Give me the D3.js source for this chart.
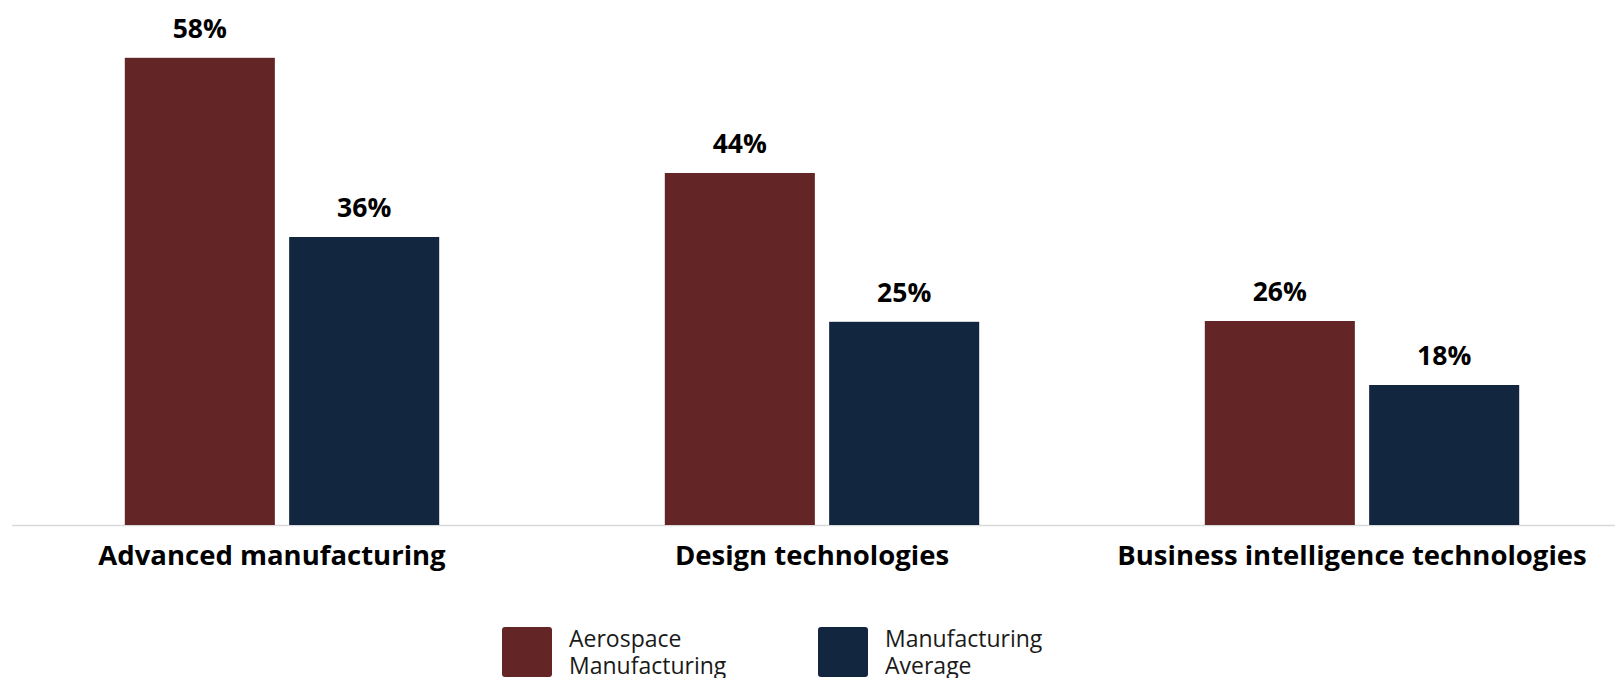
<!DOCTYPE html>
<html>
<head>
<meta charset="utf-8">
<script src="https://cdn.jsdelivr.net/npm/d3@7"></script>
<style>
  html, body { margin: 0; padding: 0; background: #ffffff; }
  svg { display: block; }
</style>
</head>
<body>
<svg id="chart" width="1615" height="678"></svg>
<script>
// ---- data ----
const categories = ["Advanced manufacturing", "Design technologies", "Business intelligence technologies"];
const seriesNames = ["Aerospace Manufacturing", "Manufacturing Average"];
const legendLines = [["Aerospace", "Manufacturing"], ["Manufacturing", "Average"]];
const aerospaceValues = [58.4, 44, 25.5];
const averageValues = [36, 25.4, 17.5];
const seriesColors = ["#632526", "#132640"];

const W = 1615, H = 678;
const svg = d3.select("#chart");
const FONT = "'Century Gothic', 'Open Sans', sans-serif";

const baseY = 525;
const y = d3.scaleLinear().domain([0, 60]).range([baseY, baseY - 480]);

const x0 = d3.scaleBand().domain(categories).range([12, 1632]).padding(0);
const inner = 157.2;
const x1 = d3.scaleBand().domain(seriesNames)
  .range([x0.bandwidth() / 2 - inner, x0.bandwidth() / 2 + inner])
  .paddingInner(0.087).paddingOuter(0);

const seriesValues = [aerospaceValues, averageValues];
const rows = [];
categories.forEach((c, i) => {
  seriesNames.forEach((s, j) => {
    rows.push({ cat: c, series: s, value: seriesValues[j][i], color: seriesColors[j] });
  });
});

// baseline axis
svg.append("line")
  .attr("x1", 12).attr("x2", W)
  .attr("y1", baseY + 0.5).attr("y2", baseY + 0.5)
  .attr("stroke", "#d9d9d9").attr("stroke-width", 1.5);

// bars
svg.append("g").selectAll("rect").data(rows).join("rect")
  .attr("x", d => x0(d.cat) + x1(d.series))
  .attr("y", d => y(d.value))
  .attr("width", x1.bandwidth())
  .attr("height", d => y(0) - y(d.value))
  .attr("fill", d => d.color);

// value labels
svg.append("g").selectAll("text").data(rows).join("text")
  .attr("x", d => x0(d.cat) + x1(d.series) + x1.bandwidth() / 2)
  .attr("y", d => y(d.value) - 20)
  .attr("text-anchor", "middle")
  .attr("font-family", FONT)
  .attr("font-weight", 700)
  .attr("font-size", 26.5)
  .attr("fill", "#000")
  .text(d => Math.round(d.value) + "%");

// category labels
svg.append("g").selectAll("text").data(categories).join("text")
  .attr("x", d => x0(d) + x0.bandwidth() / 2 - 10)
  .attr("y", 565)
  .attr("text-anchor", "middle")
  .attr("font-family", FONT)
  .attr("font-weight", 700)
  .attr("font-size", 27.5)
  .attr("fill", "#000")
  .text(d => d);

// legend
const legendX = [502, 818];
const leg = svg.append("g").selectAll("g").data(seriesNames).join("g")
  .attr("transform", (d, i) => `translate(${legendX[i]},627)`);
leg.append("rect")
  .attr("width", 50).attr("height", 50).attr("rx", 3)
  .attr("fill", (d, i) => seriesColors[i]);
leg.each(function(d, i) {
  const t = d3.select(this).append("text")
    .attr("font-family", FONT)
    .attr("font-size", 23)
    .attr("fill", "#1a1a1a");
  legendLines[i].forEach((line, k) => {
    t.append("tspan").attr("x", 67).attr("y", 20 + k * 27).text(line);
  });
});
</script>
</body>
</html>
